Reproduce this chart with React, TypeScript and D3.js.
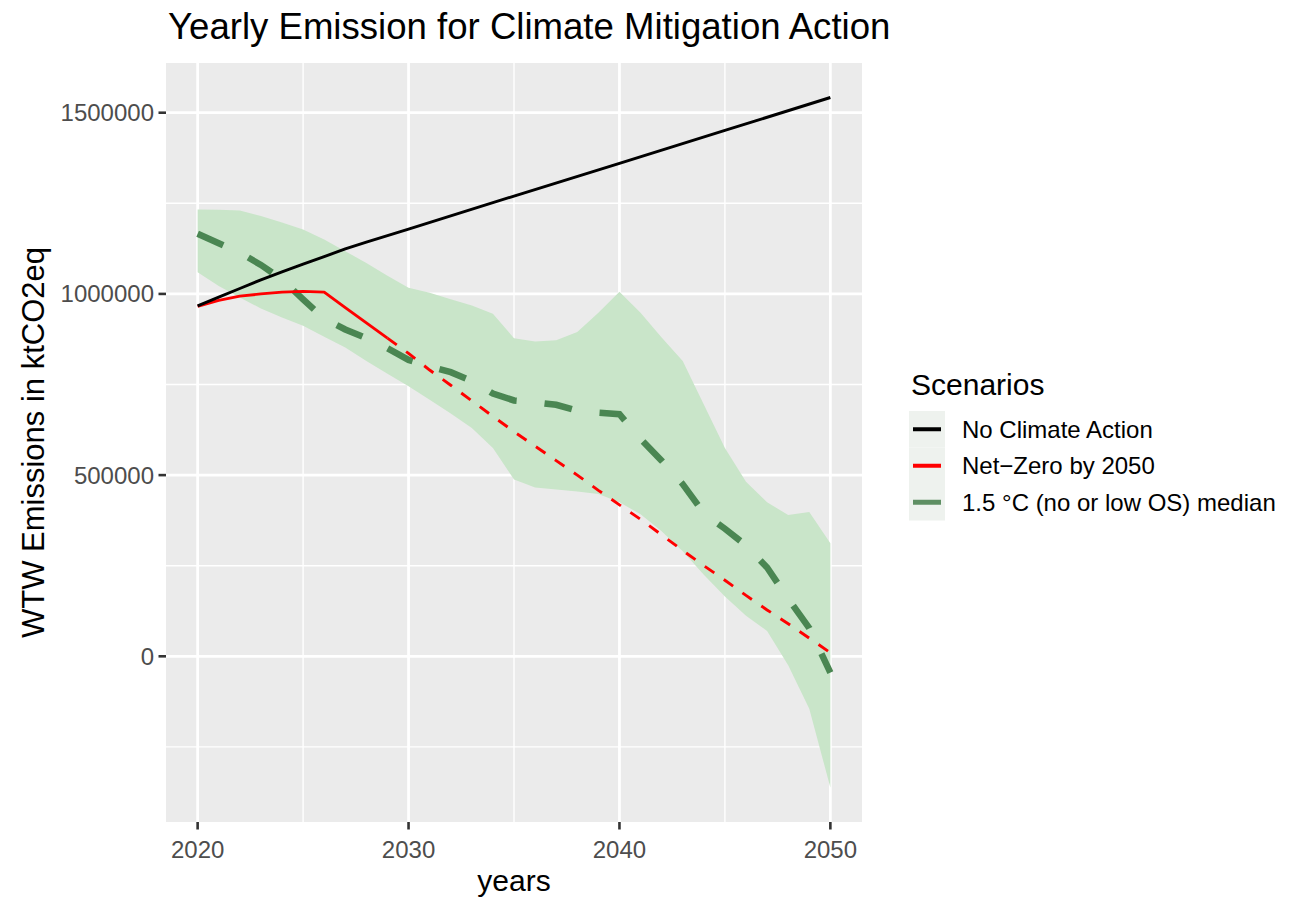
import React from "react";
import * as d3 from "d3";

// Scenario pathways, yearly emissions in ktCO2eq
const years = [
  2020, 2021, 2022, 2023, 2024, 2025, 2026, 2027, 2028, 2029, 2030,
  2031, 2032, 2033, 2034, 2035, 2036, 2037, 2038, 2039, 2040,
  2041, 2042, 2043, 2044, 2045, 2046, 2047, 2048, 2049, 2050,
];

// 1.5 °C (no or low overshoot) range: upper and lower envelope
const bandUpper = [
  1233000, 1232000, 1230000, 1215000, 1197000, 1178000, 1150000, 1118000, 1085000, 1050000, 1017000,
  1003000, 985000, 968000, 945000, 878000, 869000, 872000, 895000, 948000, 1006000,
  948000, 880000, 815000, 695000, 575000, 482000, 425000, 390000, 398000, 312000,
];
const bandLower = [
  1060000, 1022000, 990000, 960000, 935000, 912000, 882000, 852000, 815000, 780000, 745000,
  708000, 670000, 630000, 575000, 488000, 466000, 460000, 455000, 448000, 425000,
  392000, 345000, 290000, 225000, 165000, 112000, 70000, -25000, -145000, -362000,
];
// 1.5 °C median pathway
const medianValues = [
  1166000, 1140000, 1114000, 1080000, 1040000, 985000, 932000, 902000, 878000, 850000, 818000,
  800000, 784000, 760000, 725000, 706000, 701000, 694000, 678000, 672000, 668000,
  600000, 540000, 475000, 395000, 352000, 306000, 245000, 159000, 78000, -45000,
];

// No climate action
const noActionYears = [2020, 2021, 2022, 2023, 2024, 2025, 2026, 2027, 2028, 2030, 2035, 2040, 2045, 2050];
const noActionValues = [
  967000, 991000, 1015000, 1039000, 1061000, 1082000, 1103000, 1124000, 1143000, 1179000, 1270000,
  1360000, 1451000, 1542000,
];

// Net-Zero by 2050: recorded part (solid) and planned path (dashed)
const netZeroSolidYears = [2020, 2021, 2022, 2023, 2024, 2025, 2026, 2027, 2028, 2029];
const netZeroSolidValues = [966000, 982000, 994000, 1000000, 1005000, 1007000, 1005000, 962000, 920000, 878000];
const netZeroDashedYears = [
  2029, 2030, 2031, 2032, 2033, 2034, 2035, 2036, 2037, 2038, 2039, 2040,
  2041, 2042, 2043, 2044, 2045, 2046, 2047, 2048, 2049, 2050,
];
const netZeroDashedValues = [
  878000, 836000, 790000, 748000, 705000, 662000, 620000, 580000, 540000, 500000, 458000, 418000,
  378000, 335000, 292000, 250000, 210000, 168000, 128000, 90000, 50000, 10000,
];

const xMajor = [2020, 2030, 2040, 2050];
const xMinor = [2025, 2035, 2045];
const yMajor = [0, 500000, 1000000, 1500000];
const yMinor = [-250000, 250000, 750000, 1250000];

const scenarioLabels = ["No Climate Action", "Net\u2212Zero by 2050", "1.5 \u00b0C (no or low OS) median"];
const scenarioColors = ["#000000", "#ff0000", "#5e8f63"];

const W = 1305;
const H = 901;
const P = { left: 166, right: 862, top: 63, bottom: 822 };
const FONT = "'Liberation Sans', Arial, Helvetica, sans-serif";

type Pt = [number, number];
const zip = (xs: number[], ys: number[]): Pt[] => xs.map((x, i) => [x, ys[i]]);

export default function App() {
  const xExt = d3.extent(years) as [number, number];
  const xPad = (xExt[1] - xExt[0]) * 0.05;
  const x = d3.scaleLinear().domain([xExt[0] - xPad, xExt[1] + xPad]).range([P.left, P.right]);

  const allY = [...bandUpper, ...bandLower, ...medianValues, ...noActionValues, ...netZeroSolidValues, ...netZeroDashedValues];
  const yExt = d3.extent(allY) as [number, number];
  const yPad = (yExt[1] - yExt[0]) * 0.05;
  const y = d3.scaleLinear().domain([yExt[0] - yPad, yExt[1] + yPad]).range([P.bottom, P.top]);

  const line = d3
    .line<Pt>()
    .x((d) => x(d[0]))
    .y((d) => y(d[1]));

  const area = d3
    .area<number>()
    .x((_, i) => x(years[i]))
    .y0((_, i) => y(bandLower[i]))
    .y1((_, i) => y(bandUpper[i]));

  const fmt = d3.format("d");

  const legendX = 909;
  const legendKeyW = 36;
  const legendRowH = 36.5;
  const legendTop = 411;

  return (
    <svg
      width={W}
      height={H}
      style={{ position: "absolute", left: 0, top: 0, background: "#ffffff", fontFamily: FONT }}
    >
      <rect x={0} y={0} width={W} height={H} fill="#ffffff" />
      {/* panel */}
      <rect x={P.left} y={P.top} width={P.right - P.left} height={P.bottom - P.top} fill="#ebebeb" />
      {yMinor.map((v) => (
        <line key={"ym" + v} x1={P.left} x2={P.right} y1={y(v)} y2={y(v)} stroke="#ffffff" strokeWidth={1.4} />
      ))}
      {xMinor.map((v) => (
        <line key={"xm" + v} y1={P.top} y2={P.bottom} x1={x(v)} x2={x(v)} stroke="#ffffff" strokeWidth={1.4} />
      ))}
      {yMajor.map((v) => (
        <line key={"yM" + v} x1={P.left} x2={P.right} y1={y(v)} y2={y(v)} stroke="#ffffff" strokeWidth={2.8} />
      ))}
      {xMajor.map((v) => (
        <line key={"xM" + v} y1={P.top} y2={P.bottom} x1={x(v)} x2={x(v)} stroke="#ffffff" strokeWidth={2.8} />
      ))}

      {/* 1.5 °C range */}
      <path d={area(bandUpper) || ""} fill="#c9e5c9" />

      {/* 1.5 °C median */}
      <path
        d={line(zip(years, medianValues)) || ""}
        fill="none"
        stroke="#4a8652"
        strokeWidth={6.5}
        strokeDasharray="28 28"
      />

      {/* Net-Zero by 2050 */}
      <path
        d={line(zip(netZeroDashedYears, netZeroDashedValues)) || ""}
        fill="none"
        stroke="#ff0000"
        strokeWidth={2.9}
        strokeDasharray="11.5 11.5"
      />
      <path
        d={line(zip(netZeroSolidYears, netZeroSolidValues)) || ""}
        fill="none"
        stroke="#ff0000"
        strokeWidth={2.9}
        strokeLinejoin="round"
      />

      {/* No climate action */}
      <path
        d={line(zip(noActionYears, noActionValues)) || ""}
        fill="none"
        stroke="#000000"
        strokeWidth={2.9}
        strokeLinejoin="round"
      />

      {/* axes */}
      {yMajor.map((v) => (
        <g key={"yt" + v}>
          <line x1={P.left - 7.5} x2={P.left} y1={y(v)} y2={y(v)} stroke="#333333" strokeWidth={2.6} />
          <text x={P.left - 12} y={y(v)} dy="0.35em" textAnchor="end" fontSize={24} fill="#4d4d4d">
            {fmt(v)}
          </text>
        </g>
      ))}
      {xMajor.map((v) => (
        <g key={"xt" + v}>
          <line x1={x(v)} x2={x(v)} y1={P.bottom} y2={P.bottom + 7.5} stroke="#333333" strokeWidth={2.6} />
          <text x={x(v)} y={P.bottom + 36} textAnchor="middle" fontSize={24} fill="#4d4d4d">
            {v}
          </text>
        </g>
      ))}

      <text x={(P.left + P.right) / 2} y={891} textAnchor="middle" fontSize={30} fill="#000000">
        years
      </text>
      <text
        transform={`translate(44, ${(P.top + P.bottom) / 2}) rotate(-90)`}
        textAnchor="middle"
        fontSize={31}
        fill="#000000"
      >
        WTW Emissions in ktCO2eq
      </text>

      <text x={P.left + 2} y={39} fontSize={36.6} fill="#000000">
        Yearly Emission for Climate Mitigation Action
      </text>

      {/* legend */}
      <text x={legendX + 2} y={395} fontSize={30} fill="#000000">
        Scenarios
      </text>
      {scenarioLabels.map((label, i) => {
        const cy = legendTop + legendRowH * (i + 0.5);
        return (
          <g key={label}>
            <rect x={legendX} y={legendTop + legendRowH * i} width={legendKeyW} height={legendRowH} fill="#eef2ee" />
            <line
              x1={legendX + 4}
              x2={legendX + legendKeyW - 4}
              y1={cy}
              y2={cy}
              stroke={scenarioColors[i]}
              strokeWidth={i === 2 ? 5 : 4}
            />
            <text x={962} y={cy} dy="0.35em" fontSize={24} fill="#000000">
              {label}
            </text>
          </g>
        );
      })}
    </svg>
  );
}
